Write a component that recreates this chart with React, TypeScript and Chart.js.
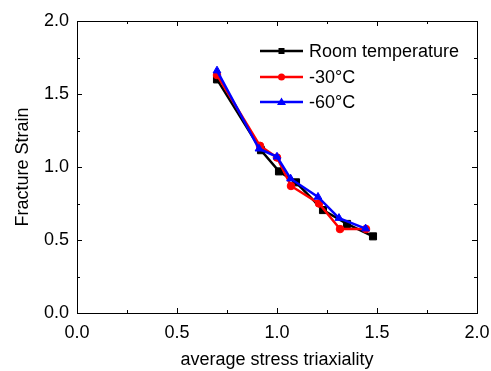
import React, { useEffect, useRef } from "react";
import { Chart, registerables } from "chart.js";

Chart.register(...registerables);

const seriesNames = ["Room temperature", "-30°C", "-60°C"];
const roomX = [0.70, 0.92, 1.01, 1.095, 1.23, 1.35, 1.48];
const roomY = [1.60, 1.115, 0.97, 0.895, 0.705, 0.61, 0.525];
const m30X = [0.70, 0.915, 1.0, 1.07, 1.21, 1.315, 1.445];
const m30Y = [1.63, 1.145, 1.065, 0.87, 0.75, 0.575, 0.575];
const m60X = [0.70, 0.91, 1.0, 1.068, 1.205, 1.31, 1.443];
const m60Y = [1.66, 1.125, 1.07, 0.92, 0.795, 0.65, 0.578];
const xTicks = [0, 0.5, 1.0, 1.5, 2.0];
const yTicks = [0, 0.5, 1.0, 1.5, 2.0];

const FONT = "'Liberation Sans', Arial, sans-serif";

const toPts = (xs: number[], ys: number[]) => xs.map((x, i) => ({ x, y: ys[i] }));

const framePlugin = {
  id: "frame",
  afterDatasetsDraw(chart: any) {
    const { ctx, chartArea: a, scales } = chart;
    ctx.save();
    ctx.strokeStyle = "#000";
    ctx.lineWidth = 1;
    ctx.strokeRect(Math.round(a.left) + 0.5, Math.round(a.top) + 0.5, Math.round(a.right - a.left), Math.round(a.bottom - a.top));
    ctx.beginPath();
    for (let v = 0; v <= 2.0001; v += 0.25) {
      const major = Math.abs(v * 2 - Math.round(v * 2)) < 1e-6;
      const len = major ? 5 : 3;
      const px = Math.round(scales.x.getPixelForValue(v)) + 0.5;
      ctx.moveTo(px, a.bottom);
      ctx.lineTo(px, a.bottom - len);
      ctx.moveTo(px, a.top);
      ctx.lineTo(px, a.top + len);
      const py = Math.round(scales.y.getPixelForValue(v)) + 0.5;
      ctx.moveTo(a.left, py);
      ctx.lineTo(a.left + len, py);
      ctx.moveTo(a.right, py);
      ctx.lineTo(a.right - len, py);
    }
    ctx.stroke();

    // legend
    const rows = [51, 77, 102];
    chart.data.datasets.forEach((ds: any, i: number) => {
      const y = rows[i];
      const x0 = 260, x1 = 303;
      ctx.strokeStyle = ds.borderColor;
      ctx.lineWidth = 2.5;
      ctx.beginPath();
      ctx.moveTo(x0, y);
      ctx.lineTo(x1, y);
      ctx.stroke();
      ctx.fillStyle = ds.borderColor;
      const cx = (x0 + x1) / 2;
      if (ds.pointStyle === "rect") {
        ctx.fillRect(cx - 3, y - 3, 6, 6);
      } else if (ds.pointStyle === "circle") {
        ctx.beginPath();
        ctx.arc(cx, y, 3.5, 0, Math.PI * 2);
        ctx.fill();
      } else {
        ctx.beginPath();
        ctx.moveTo(cx, y - 4.5);
        ctx.lineTo(cx + 4.5, y + 3);
        ctx.lineTo(cx - 4.5, y + 3);
        ctx.closePath();
        ctx.fill();
      }
      ctx.fillStyle = "#000";
      ctx.font = `18px ${FONT}`;
      ctx.textBaseline = "middle";
      ctx.textAlign = "left";
      ctx.fillText(ds.label, 309, y + 1);
    });
    ctx.restore();
  },
};

const zeroPad = (s: any) => {
  s.paddingLeft = 0;
  s.paddingRight = 0;
  s.paddingTop = 0;
  s.paddingBottom = 0;
};

export default function App() {
  const ref = useRef<HTMLCanvasElement>(null);
  useEffect(() => {
    document.body.style.margin = "0";
    const common = { borderWidth: 2.5, showLine: true, tension: 0, pointBorderWidth: 1 };
    const chart = new Chart(ref.current!, {
      type: "scatter",
      data: {
        datasets: [
          { ...common, label: seriesNames[0], data: toPts(roomX, roomY), borderColor: "#000000", backgroundColor: "#000000", pointStyle: "rect", pointRadius: 5, order: 2 },
          { ...common, label: seriesNames[1], data: toPts(m30X, m30Y), borderColor: "#ff0000", backgroundColor: "#ff0000", pointStyle: "circle", pointRadius: 3.8, order: 1 },
          { ...common, label: seriesNames[2], data: toPts(m60X, m60Y), borderColor: "#0000ff", backgroundColor: "#0000ff", pointStyle: "triangle", pointRadius: 4.5, order: 0 },
        ],
      },
      options: {
        animation: false,
        responsive: false,
        devicePixelRatio: 1,
        layout: { padding: { left: 0, right: 14, top: 21, bottom: 0 } },
        plugins: { legend: { display: false }, tooltip: { enabled: false } },
        scales: {
          x: {
            type: "linear",
            min: 0,
            max: 2,
            afterFit: (s: any) => { s.height = 58; zeroPad(s); },
            afterBuildTicks: (s: any) => { s.ticks = xTicks.map((v) => ({ value: v })); },
            grid: { display: false, drawTicks: false },
            border: { display: false },
            ticks: { color: "#000", font: { family: FONT, size: 18 }, padding: 9, callback: (v: any) => Number(v).toFixed(1), maxRotation: 0 },
            title: { display: true, text: "average stress triaxiality", color: "#000", font: { family: FONT, size: 18 }, padding: { top: 0, bottom: 0 } },
          },
          y: {
            type: "linear",
            min: 0,
            max: 2,
            afterFit: (s: any) => { s.width = 77; zeroPad(s); },
            afterBuildTicks: (s: any) => { s.ticks = yTicks.map((v) => ({ value: v })); },
            grid: { display: false, drawTicks: false },
            border: { display: false },
            ticks: { color: "#000", font: { family: FONT, size: 18 }, padding: 8, callback: (v: any) => Number(v).toFixed(1) },
            title: { display: true, text: "Fracture Strain", color: "#000", font: { family: FONT, size: 18 }, padding: { top: 12, bottom: 0 } },
          },
        },
      },
      plugins: [framePlugin],
    });
    return () => chart.destroy();
  }, []);
  return (
    <div style={{ position: "absolute", left: 0, top: 0, width: 491, height: 371 }}>
      <canvas ref={ref} width={491} height={371} />
    </div>
  );
}
